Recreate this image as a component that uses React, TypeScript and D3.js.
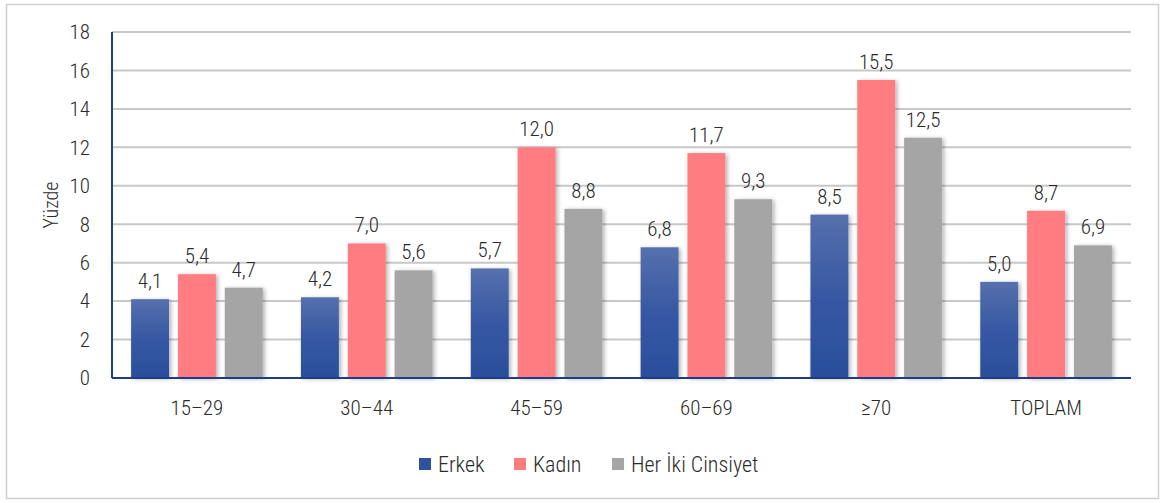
import React from "react";
import * as d3 from "d3";

const categories = ["15–29", "30–44", "45–59", "60–69", "≥70", "TOPLAM"];
const seriesNames = ["Erkek", "Kadın", "Her İki Cinsiyet"];
const erkek = [4.1, 4.2, 5.7, 6.8, 8.5, 5.0];
const kadin = [5.4, 7.0, 12.0, 11.7, 15.5, 8.7];
const herIki = [4.7, 5.6, 8.8, 9.3, 12.5, 6.9];
const yTicks = [0, 2, 4, 6, 8, 10, 12, 14, 16, 18];

const W = 1165, H = 503;
const M = { left: 112, right: 1131, top: 32, bottom: 378 };
const FONT = "'Roboto Condensed', 'Roboto', sans-serif";

export default function App() {
  const series = [erkek, kadin, herIki];
  const fills = ["url(#blueGrad)", "#ff7c80", "#a5a5a5"];
  const legendFills = ["#2f529e", "#ff7c80", "#a5a5a5"];
  const x0 = d3.scaleBand().domain(categories).range([M.left, M.right]).paddingInner(0.225).paddingOuter(0.1125);
  const x1 = d3.scaleBand().domain(seriesNames).range([0, x0.bandwidth()]).paddingInner(0.19);
  const y = d3.scaleLinear().domain([0, 18]).range([M.bottom, M.top]);
  const fmt = (v: number) => v.toFixed(1).replace(".", ",");
  const legendX = [419, 514, 612];
  const tc = "#2b2b2b";
  return (
    <svg width={W} height={H} style={{ position: "absolute", left: 0, top: 0 }} fontFamily={FONT} fontWeight={300}>
      <defs>
        <linearGradient id="blueGrad" x1="0" y1="0" x2="0" y2="1">
          <stop offset="0" stopColor="#5670ad" />
          <stop offset="0.5" stopColor="#3758a3" />
          <stop offset="1" stopColor="#2a4e9c" />
        </linearGradient>
        <filter id="shadow" x="-30%" y="-10%" width="160%" height="120%">
          <feDropShadow dx="2" dy="1" stdDeviation="2" floodColor="#000" floodOpacity="0.3" />
        </filter>
      </defs>
      <rect x={6.5} y={4.5} width={1152} height={494} fill="#fff" stroke="#d0d0d0" strokeWidth={1.5} />
      {yTicks.map(t => (
        <g key={t}>
          {t > 0 && <line x1={M.left} x2={M.right} y1={y(t)} y2={y(t)} stroke="#c8c8c8" strokeWidth={2} />}
          <text x={90} y={y(t)} dy="0.35em" textAnchor="end" fontSize={21} fill={tc}>{t}</text>
        </g>
      ))}
      <text transform={`translate(58,${(M.top + M.bottom) / 2}) rotate(-90)`} textAnchor="middle" fontSize={20} fill={tc}>Yüzde</text>
      {categories.map((c, i) => (
        <g key={c}>
          {series.map((s, j) => {
            const bx = (x0(c) as number) + (x1(seriesNames[j]) as number);
            return (
              <g key={j}>
                <rect x={bx} y={y(s[i])} width={x1.bandwidth()} height={M.bottom - y(s[i])} fill={fills[j]} filter="url(#shadow)" />
                <text x={bx + x1.bandwidth() / 2} y={y(s[i]) - 11} textAnchor="middle" fontSize={21} fill={tc}>{fmt(s[i])}</text>
              </g>
            );
          })}
          <text x={(x0(c) as number) + x0.bandwidth() / 2} y={415} textAnchor="middle" fontSize={21} fill={tc}>{c}</text>
        </g>
      ))}
      <line x1={M.left} x2={M.left} y1={M.top} y2={M.bottom} stroke="#1f3c88" strokeWidth={2} />
      <line x1={M.left} x2={M.right} y1={M.bottom} y2={M.bottom} stroke="#1f3c88" strokeWidth={2} />
      {seriesNames.map((n, j) => (
        <g key={n}>
          <rect x={legendX[j]} y={458} width={12} height={12} fill={legendFills[j]} />
          <text x={legendX[j] + 19} y={464} dy="0.35em" fontSize={22} fill={tc}>{n}</text>
        </g>
      ))}
    </svg>
  );
}
